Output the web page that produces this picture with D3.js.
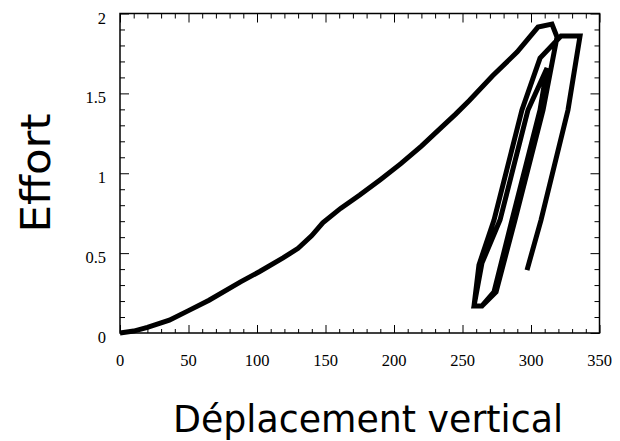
<!DOCTYPE html>
<html><head><meta charset="utf-8">
<script src="https://cdn.jsdelivr.net/npm/d3@7"></script>
<style>body{margin:0;background:#fff}svg{display:block}.tl{font-family:"Liberation Serif","Times New Roman",serif;font-size:16.5px;fill:#000}</style>
</head><body><svg id="c" width="620" height="441"></svg>
<script>
// Series: displacement (x) and effort (y)
const displacement = [0,10,20,36,50,65,88,102,119,130,140,148,161,175,190,205,220,235,245,255,272,290,305.1,315.3,319.0,
  308.8,288.3,274.5,264.2,258.4,
  264.2,277.4,297.8,311.7,
  306.6,286.1,273.0,264.2,258.4,
  262.0,273.0,293.4,306.6,321.9,335.8,
  327.0,307.3,297.1];
const effort = [0,0.012,0.035,0.08,0.14,0.205,0.32,0.385,0.47,0.53,0.61,0.69,0.78,0.864,0.96,1.06,1.17,1.29,1.37,1.455,1.61,1.76,1.915,1.934,1.853,
  1.396,0.707,0.257,0.169,0.169,
  0.438,0.707,1.396,1.659,
  1.396,0.707,0.257,0.169,0.169,
  0.426,0.707,1.396,1.721,1.859,1.859,
  1.396,0.707,0.394];
const xTickValues = [0,50,100,150,200,250,300,350];
const xTickLabels = ["0","50","100","150","200","250","300","350"];
const yTickValues = [0,0.5,1,1.5,2];
const yTickLabels = ["0","0.5","1","1.5","2"];
const xTitle = "Déplacement vertical";
const yTitle = "Effort";

const L = 120, T = 13.5, R = 599.5, B = 333;
const x = d3.scaleLinear().domain([0,350]).range([L,R]);
const y = d3.scaleLinear().domain([0,2]).range([B,T]);
const svg = d3.select("#c");

const xMinor = d3.range(0,351,10).filter(v => !xTickValues.includes(v));
const yMinor = d3.range(0,21,1).map(v=>v/10).filter(v => !yTickValues.includes(v));

function ticks(axisFn, scale, vals, size, tr){
  svg.append("g").attr("transform", tr)
    .call(axisFn(scale).tickValues(vals).tickSize(-size).tickFormat(""))
    .call(g => { g.select(".domain").remove(); g.selectAll("line").attr("stroke","#000").attr("stroke-width",1); });
}
ticks(d3.axisBottom, x, xTickValues, 8, `translate(0,${B})`);
ticks(d3.axisBottom, x, xMinor, 4, `translate(0,${B})`);
ticks(d3.axisTop, x, xTickValues, 9, `translate(0,${T})`);
ticks(d3.axisTop, x, xMinor, 5, `translate(0,${T})`);
ticks(d3.axisLeft, y, yTickValues, 9, `translate(${L},0)`);
ticks(d3.axisLeft, y, yMinor, 5, `translate(${L},0)`);
ticks(d3.axisRight, y, yTickValues, 9, `translate(${R},0)`);
ticks(d3.axisRight, y, yMinor, 5, `translate(${R},0)`);

svg.append("rect").attr("x",L).attr("y",T).attr("width",R-L).attr("height",B-T)
  .attr("fill","none").attr("stroke","#000").attr("stroke-width",1.5);

svg.append("g").selectAll("text").data(xTickValues).join("text").attr("class","tl")
  .attr("x", d=>x(d)).attr("y", 366).attr("text-anchor","middle")
  .text((d,i)=>xTickLabels[i]);
svg.append("g").selectAll("text").data(yTickValues).join("text").attr("class","tl")
  .attr("x", 106).attr("y", d=>y(d)+10).attr("text-anchor","end")
  .text((d,i)=>yTickLabels[i]);

const pts = displacement.map((d,i)=>[d, effort[i]]);
svg.append("path").datum(pts)
  .attr("d", d3.line().x(d=>x(d[0])).y(d=>y(d[1])))
  .attr("fill","none").attr("stroke","#000").attr("stroke-width",5)
  .attr("stroke-linejoin","miter").attr("stroke-miterlimit",6).attr("stroke-linecap","butt");

const titleFont = "'Comic Sans MS','DejaVu Sans',sans-serif";
svg.append("text").attr("x",368).attr("y",432).attr("text-anchor","middle")
  .style("font-family",titleFont).style("font-size","37px")
  .attr("textLength",390).attr("lengthAdjust","spacingAndGlyphs").text(xTitle);
svg.append("text").attr("transform","translate(50,173) rotate(-90)").attr("text-anchor","middle")
  .style("font-family",titleFont).style("font-size","40px")
  .attr("textLength",119).attr("lengthAdjust","spacingAndGlyphs").text(yTitle);
</script></body></html>
